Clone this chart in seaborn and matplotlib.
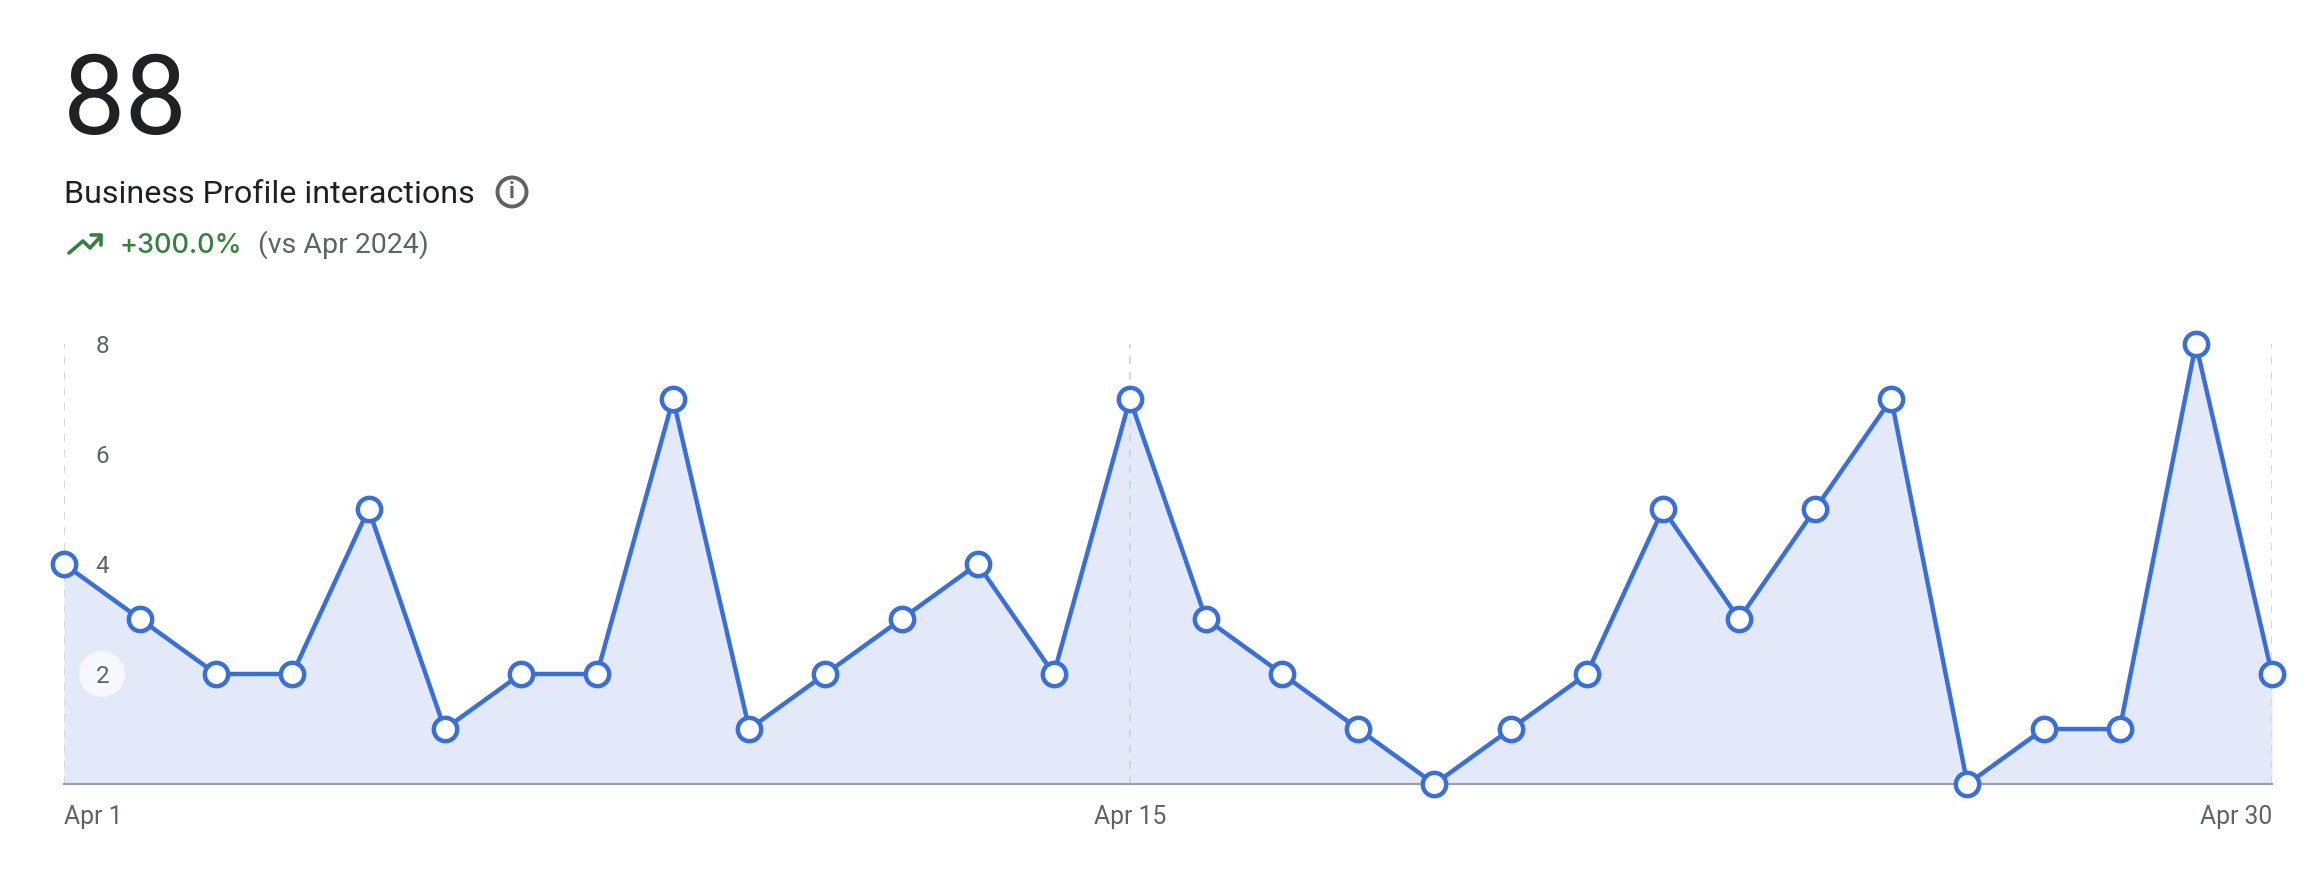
import matplotlib
matplotlib.use("Agg")
import matplotlib.pyplot as plt
import matplotlib.patches as mpatches
import pandas as pd
import seaborn as sns

# daily values, they add up to the 88 in the header
days = list(range(1, 31))
interactions = [4, 3, 2, 2, 5, 1, 2, 2, 7, 1, 2, 3, 4, 2, 7, 3, 2, 1, 0, 1, 2, 5, 3, 5, 7, 0, 1, 1, 8, 2]
y_ticks = [2, 4, 6, 8]
x_guides = [1, 15, 30]
x_labels = ["Apr 1", "Apr 15", "Apr 30"]

total_text = "88"
title_text = "Business Profile interactions"
change_text = "+300.0%"
compare_text = "(vs Apr 2024)"

BLUE = "#3a6fd8"
FILL = "#e3e9f9"
GREEN = "#34803f"
GREY = "#5f6368"
DARK = "#202124"

W, H = 2320, 874

sns.set_style("white")
plt.rcParams['font.family'] = ['Roboto', 'DejaVu Sans']


def fx(px):
    return px / W


def fy(py):
    return 1 - py / H


df = pd.DataFrame({"day": days, "interactions": interactions})

fig = plt.figure(figsize=(W / 100, H / 100), dpi=100, facecolor="white")
ax = fig.add_axes([fx(64), fy(784), fx(2272 - 64), (784 - 344) / H])
ax.set_facecolor("none")
ax.set_axisbelow(False)

ax.fill_between(df["day"], df["interactions"], 0, color=FILL, lw=0, zorder=1)
for d in x_guides:
    ax.axvline(d, color="#d3d6dc", lw=1.4, dashes=(4, 4), zorder=1.5)

# pale circle behind the "2" tick
ax.add_patch(mpatches.Ellipse((fx(102), fy(674)), 46 / W, 46 / H, transform=fig.transFigure,
                              color="white", alpha=0.7, lw=0, zorder=2, clip_on=False))

sns.lineplot(data=df, x="day", y="interactions", ax=ax, color=BLUE, lw=3.2, marker="o",
             markersize=16.8, markerfacecolor="white", markeredgecolor=BLUE, markeredgewidth=3.2,
             clip_on=False, zorder=3, errorbar=None)

ax.set_xlim(1, 30)
ax.set_ylim(0, 8)
ax.set_xlabel("")
ax.set_ylabel("")
sns.despine(ax=ax, left=True, right=True, top=True, bottom=False)
ax.spines["bottom"].set_color("#9aa0a6")
ax.spines["bottom"].set_linewidth(1.5)
ax.spines["bottom"].set_zorder(2)

ax.set_yticks(y_ticks)
ax.tick_params(axis="y", length=0, pad=-32.5, labelsize=17.5, labelcolor=GREY)

ax.set_xticks(x_guides)
ax.set_xticklabels(x_labels)
ax.tick_params(axis="x", length=0, pad=15, labelsize=17.8, labelcolor=GREY)
xl = ax.get_xticklabels()
xl[0].set_ha("left")
xl[2].set_ha("right")

# header
fig.text(fx(63), fy(134), total_text, fontsize=80, color=DARK, va="baseline")
fig.text(fx(64), fy(203), title_text, fontsize=23.2, color=DARK, va="baseline")
fig.text(fx(119), fy(253), change_text, fontsize=19.5, color=GREEN, family="Inter", fontweight="medium", va="baseline")
fig.text(fx(258), fy(253), compare_text, fontsize=20.5, color=GREY, va="baseline")

# info icon
fig.add_artist(mpatches.Ellipse((fx(512), fy(192)), 29 / W, 29 / H, transform=fig.transFigure,
                                fill=False, ec=GREY, lw=2.8))
fig.text(fx(512), fy(192), "i", fontsize=16, color=GREY, fontweight="bold", ha="center", va="center")

# trending up arrow
fig.add_artist(plt.Line2D([fx(x) for x in (69, 83, 90, 101)], [fy(y) for y in (253, 241, 248, 236)],
                          color=GREEN, lw=2.6, transform=fig.transFigure))
fig.add_artist(plt.Line2D([fx(x) for x in (91, 101, 101)], [fy(y) for y in (235, 235, 245)],
                          color=GREEN, lw=2.6, transform=fig.transFigure))

fig.savefig("out.png", dpi=100)
